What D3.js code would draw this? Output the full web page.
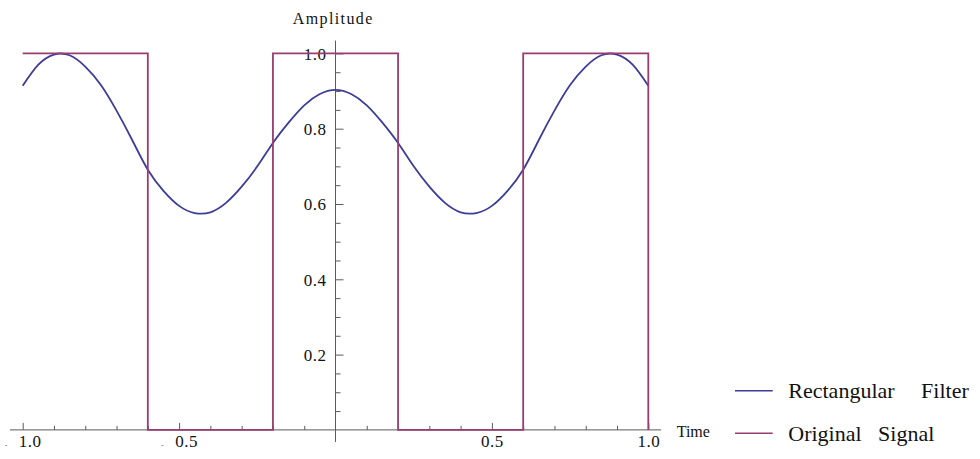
<!DOCTYPE html>
<html>
<head>
<meta charset="utf-8">
<script src="https://cdn.jsdelivr.net/npm/d3@7"></script>
<style>
  html, body { margin: 0; padding: 0; background: #fff; }
  svg { display: block; font-family: "Liberation Serif", "Times New Roman", serif; }
</style>
</head>
<body>
<svg id="chart" width="980" height="459"></svg>
<script>
// ---- data ----
const timeSamples = [-1.00,-0.95,-0.90,-0.85,-0.80,-0.75,-0.70,-0.65,-0.60,-0.55,-0.50,-0.45,-0.40,-0.35,-0.30,-0.25,-0.20,-0.15,-0.10,-0.05,
                     0.00,0.05,0.10,0.15,0.20,0.25,0.30,0.35,0.40,0.45,0.50,0.55,0.60,0.65,0.70,0.75,0.80,0.85,0.90,0.95,1.00];
const filterValues = [0.914,0.970,0.997,0.995,0.965,0.916,0.848,0.770,0.691,0.635,0.595,0.576,0.578,0.603,0.646,0.700,0.762,0.816,0.862,0.892,
                      0.903,0.892,0.862,0.816,0.762,0.700,0.646,0.603,0.578,0.576,0.595,0.635,0.691,0.770,0.848,0.916,0.965,0.995,0.997,0.970,0.914];
const signalTimes  = [-1.0,-0.6,-0.6,-0.2,-0.2,0.2,0.2,0.6,0.6,1.0,1.0];
const signalValues = [ 1,   1,   0,   0,   1,  1,  0,  0,  1,  1,  0];
const xMajorTicks = [-1.0,-0.5,0.5,1.0];
const xMinorTicks = [-0.9,-0.8,-0.7,-0.6,-0.4,-0.3,-0.2,-0.1,0.1,0.2,0.3,0.4,0.6,0.7,0.8,0.9];
const yMajorTicks = [0.2,0.4,0.6,0.8,1.0];
const yMinorTicks = [0.05,0.1,0.15,0.25,0.3,0.35,0.45,0.5,0.55,0.65,0.7,0.75,0.85,0.9,0.95];
const seriesNames = ["Rectangular Filter","Original Signal"];
const xAxisTitle = "Time";
const yAxisTitle = "Amplitude";

// ---- styles ----
const colors = ["#3d3d99", "#993d71"];
const axisColor = "#5a5a5a";
const fontSize = 17;

const svg = d3.select("#chart");
const x = d3.scaleLinear().domain([-1, 1]).range([22.7, 648.3]);
const y = d3.scaleLinear().domain([0, 1]).range([429.9, 53.4]);

// axis lines
svg.append("line").attr("x1", x(-1.041)).attr("x2", x(1.041)).attr("y1", y(0)).attr("y2", y(0))
   .attr("stroke", axisColor).attr("stroke-width", 1);
svg.append("line").attr("x1", x(0)).attr("x2", x(0)).attr("y1", y(1.034)).attr("y2", y(-0.032))
   .attr("stroke", axisColor).attr("stroke-width", 1);

function styleAxis(g) {
  g.select(".domain").remove();
  g.selectAll(".tick line").attr("stroke", axisColor).attr("stroke-width", 1);
  g.selectAll("text").attr("fill", "#111").style("font-size", fontSize + "px")
   .style("letter-spacing", "0.5px").style("font-family", "Liberation Serif");
}

// x axis minor
svg.append("g").attr("transform", `translate(0,${y(0)})`)
  .call(d3.axisBottom(x).tickValues(xMinorTicks).tickSizeInner(-4).tickSizeOuter(0).tickFormat(""))
  .call(styleAxis);
// x axis major
const gx = svg.append("g").attr("transform", `translate(0,${y(0)})`)
  .call(d3.axisBottom(x).tickValues(xMajorTicks).tickSizeInner(-7).tickSizeOuter(0).tickFormat(d3.format(".1f")))
  .call(styleAxis);
gx.selectAll(".tick text").each(function(d) {
  const t = d3.select(this);
  t.text(null).attr("y", 17).attr("dy", 0).attr("text-anchor", "middle");
  if (d < 0) {
    t.append("tspan").style("font-size", "7px").text("-");
    t.append("tspan").attr("dx", 11).text(d3.format(".1f")(Math.abs(d)));
  } else {
    t.append("tspan").text(d3.format(".1f")(d));
  }
});

// y axis minor
svg.append("g").attr("transform", `translate(${x(0)},0)`)
  .call(d3.axisLeft(y).tickValues(yMinorTicks).tickSizeInner(-5).tickSizeOuter(0).tickFormat(""))
  .call(styleAxis);
// y axis major
const gy = svg.append("g").attr("transform", `translate(${x(0)},0)`)
  .call(d3.axisLeft(y).tickValues(yMajorTicks).tickSizeInner(-8).tickSizeOuter(0).tickPadding(9).tickFormat(d3.format(".1f")))
  .call(styleAxis);
gy.selectAll(".tick text").attr("dy", "0.34em");

// series
const filterData = timeSamples.map((t, i) => [t, filterValues[i]]);
const signalData = signalTimes.map((t, i) => [t, signalValues[i]]);
svg.append("path").datum(filterData)
  .attr("d", d3.line().x(d => x(d[0])).y(d => y(d[1])).curve(d3.curveNatural))
  .attr("fill", "none").attr("stroke", colors[0]).attr("stroke-width", 1.8);
svg.append("path").datum(signalData)
  .attr("d", d3.line().x(d => x(d[0])).y(d => y(d[1])))
  .attr("fill", "none").attr("stroke", colors[1]).attr("stroke-width", 1.8);

// axis titles
svg.append("text").attr("x", 292.7).attr("y", 24.3).text(yAxisTitle)
  .style("font-size", "16px").style("letter-spacing", "1.4px").attr("fill", "#111");
svg.append("text").attr("x", 676.7).attr("y", 436.7).text(xAxisTitle)
  .style("font-size", "16px").attr("fill", "#111");

// legend
const legendY = [390.7, 433.3];
const wordSpacing = [21, 11];
const lg = svg.append("g");
seriesNames.forEach((name, i) => {
  lg.append("line").attr("x1", 735).attr("x2", 772.7).attr("y1", legendY[i]).attr("y2", legendY[i])
    .attr("stroke", colors[i]).attr("stroke-width", 1.6);
  lg.append("text").attr("x", 788.3).attr("y", legendY[i] + 7.6).text(name)
    .style("font-size", "22px").style("word-spacing", wordSpacing[i] + "px").attr("fill", "#111");
});
</script>
</body>
</html>
